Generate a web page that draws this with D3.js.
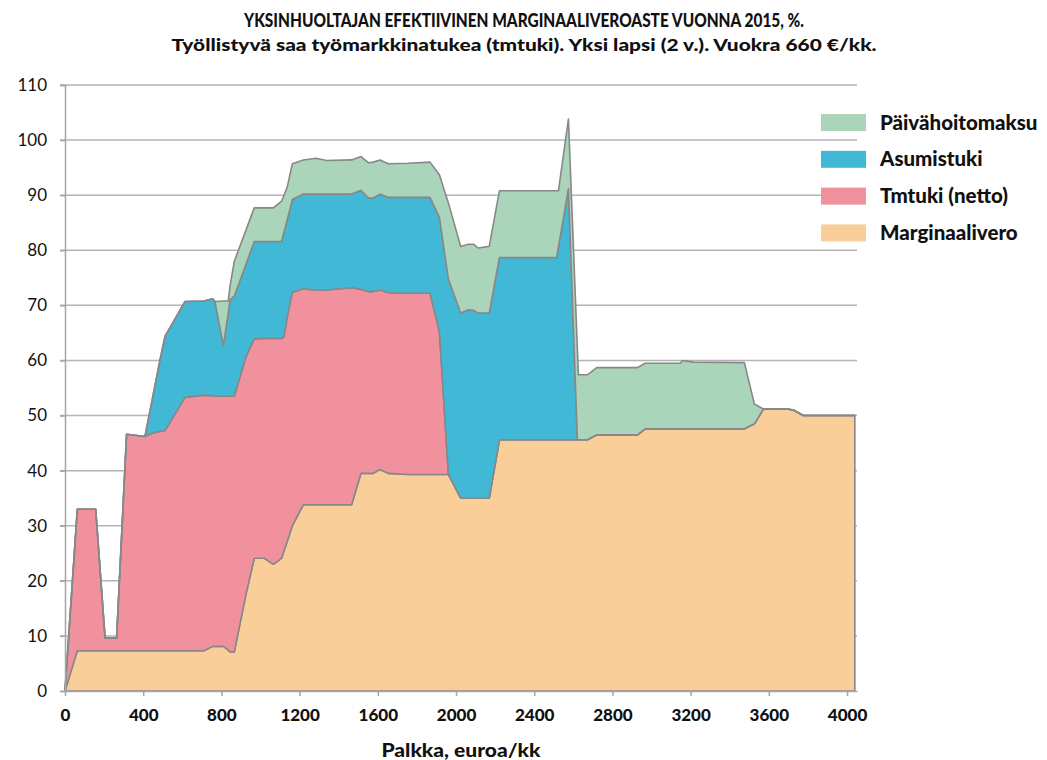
<!DOCTYPE html>
<html>
<head>
<meta charset="utf-8">
<script src="https://cdn.jsdelivr.net/npm/d3@7"></script>
<style>
  html, body { margin: 0; padding: 0; background: #fff; }
  svg text { font-family: Lato, "Noto Sans", sans-serif; fill: #111; }
</style>
</head>
<body>
<svg id="chart" width="1047" height="760"></svg>
<script>
// ---- data ----
const salary = [0, 63, 157, 205, 264, 315, 409, 455, 486, 512, 614, 711, 755, 767, 810, 835, 844, 866, 926, 968,
  1020, 1066, 1108, 1120, 1137, 1163, 1219, 1284, 1338, 1466, 1514, 1552, 1577, 1611, 1654, 1756, 1867, 1915, 1961,
  2024, 2063, 2089, 2114, 2170, 2222, 2515, 2524, 2575, 2621, 2626, 2672, 2720, 2928, 2967, 3146, 3160, 3214, 3475,
  3526, 3572, 3693, 3725, 3776, 4040];
const marginaalivero = [0, 7.3, 7.3, 7.3, 7.3, 7.3, 7.3, 7.3, 7.3, 7.3, 7.3, 7.3, 8.1, 8.1, 8.1, 7.4, 7.1, 7.1, 17.6, 24.1,
  24.1, 23.0, 24.1, 25.4, 27.2, 30.0, 33.8, 33.8, 33.8, 33.8, 39.5, 39.5, 39.5, 40.2, 39.5, 39.3, 39.3, 39.3, 39.3,
  35.0, 35.0, 35.0, 35.0, 35.0, 45.6, 45.6, 45.6, 45.6, 45.6, 45.6, 45.6, 46.5, 46.5, 47.6, 47.6, 47.6, 47.6, 47.6,
  48.5, 51.2, 51.2, 51.0, 50.0, 50.0];
const tmtuki = [0, 25.7, 25.7, 2.3, 2.3, 39.3, 38.9, 39.6, 39.8, 40.0, 46.0, 46.4, 45.5, 45.4, 45.4, 46.1, 46.4, 46.4, 43.1, 39.8,
  39.9, 41.0, 39.9, 38.9, 40.7, 42.4, 39.2, 39.0, 39.0, 39.4, 33.4, 33.0, 33.0, 32.6, 32.8, 32.9, 32.9, 25.9, 0,
  0, 0, 0, 0, 0, 0, 0, 0, 0, 0, 0, 0, 0, 0, 0, 0, 0, 0, 0,
  0, 0, 0, 0, 0, 0];
const asumistuki = [0, 0, 0, 0, 0, 0, 0, 7.6, 13.0, 17.1, 17.4, 17.1, 17.6, 17.2, 9.2, 15.1, 17.5, 18.2, 16.8, 17.7,
  17.6, 17.6, 17.6, 19.0, 17.7, 16.8, 17.2, 17.4, 17.4, 17.0, 18.0, 17.0, 17.0, 17.4, 17.3, 17.4, 17.4, 20.8, 35.5,
  33.6, 34.2, 34.1, 33.6, 33.6, 33.1, 33.1, 35.0, 45.6, 0, 0, 0, 0, 0, 0, 0, 0, 0, 0,
  0, 0, 0, 0, 0, 0];
const paivahoitomaksu = [0, 0, 0, 0, 0, 0, 0, 0, 0, 0, 0, 0, 0, 0, 8.1, 2.2, 2.5, 6.3, 6.2, 6.1,
  6.1, 6.1, 7.3, 6.7, 5.9, 6.5, 6.2, 6.5, 6.1, 6.2, 6.1, 6.4, 6.5, 6.2, 6.1, 6.2, 6.4, 7.7, 13.8,
  12.1, 11.9, 12.0, 11.8, 12.1, 12.1, 12.1, 10.2, 12.6, 16.3, 11.8, 11.8, 12.2, 12.2, 11.9, 11.9, 12.4, 12.1, 12.0,
  3.6, 0, 0, 0, 0, 0];
const seriesKeys = ["Marginaalivero", "Tmtuki (netto)", "Asumistuki", "Päivähoitomaksu"];
const seriesColors = ["#f9ce99", "#f0919d", "#41b8d5", "#abd5ba"];
const xTicks = [0, 400, 800, 1200, 1600, 2000, 2400, 2800, 3200, 3600, 4000];
const yTicks = [0, 10, 20, 30, 40, 50, 60, 70, 80, 90, 100, 110];
const titleLines = ["YKSINHUOLTAJAN EFEKTIIVINEN MARGINAALIVEROASTE VUONNA 2015, %.",
  "Työllistyvä saa työmarkkinatukea (tmtuki). Yksi lapsi (2 v.). Vuokra 660 €/kk."];
const xTitle = "Palkka, euroa/kk";

// ---- build ----
const svg = d3.select("#chart");
const rows = salary.map((s, i) => ({
  salary: s,
  "Marginaalivero": marginaalivero[i],
  "Tmtuki (netto)": tmtuki[i],
  "Asumistuki": asumistuki[i],
  "Päivähoitomaksu": paivahoitomaksu[i]
}));
const x = d3.scaleLinear().domain([0, 4051]).range([65, 857]);
const y = d3.scaleLinear().domain([0, 110]).range([691, 85]);

// gridlines
svg.append("g").selectAll("line").data(yTicks.filter(d => d > 0)).join("line")
  .attr("x1", 60).attr("x2", 857)
  .attr("y1", d => y(d)).attr("y2", d => y(d))
  .attr("stroke", "#b5b3b4").attr("stroke-width", 1.5);

// stacked areas
const stack = d3.stack().keys(seriesKeys);
const layers = stack(rows);
const area = d3.area()
  .x(d => x(d.data.salary))
  .y0(d => y(d[0]))
  .y1(d => y(d[1]));
svg.append("g").selectAll("path").data(layers).join("path")
  .attr("d", area)
  .attr("fill", (d, i) => seriesColors[i])
  .attr("stroke", "#888888")
  .attr("stroke-width", 1.6)
  .attr("stroke-linejoin", "round");

// y axis
const yAxis = d3.axisLeft(y).tickValues(yTicks).tickSize(5).tickPadding(13);
const gy = svg.append("g").attr("transform", "translate(65,0)").call(yAxis);
gy.select(".domain").attr("stroke", "#a7a5a6").attr("stroke-width", 1.5);
gy.selectAll(".tick line").attr("stroke", "#a7a5a6").attr("stroke-width", 1.5);
gy.selectAll(".tick text").style("font-size", "17px").style("font-family", "Lato, sans-serif").attr("fill", "#111");

// x axis
const xAxis = d3.axisBottom(x).tickValues(xTicks).tickFormat(d3.format("d"))
  .tickSize(5).tickSizeOuter(0).tickPadding(13);
const gx = svg.append("g").attr("transform", "translate(0,691)").call(xAxis);
gx.select(".domain").attr("stroke", "#a7a5a6").attr("stroke-width", 1.5);
gx.selectAll(".tick line").attr("stroke", "#a7a5a6").attr("stroke-width", 1.5);
gx.selectAll(".tick text").style("font-size", "17px").style("font-weight", "900").style("font-family", "Lato, sans-serif").attr("fill", "#111");

// titles
const titleWidths = [560, 705];
const titleSizes = [18, 17];
svg.append("g").selectAll("text").data(titleLines).join("text")
  .attr("x", 524).attr("y", (d, i) => 27 + i * 24)
  .attr("text-anchor", "middle")
  .attr("textLength", (d, i) => titleWidths[i])
  .attr("lengthAdjust", "spacingAndGlyphs")
  .style("font-size", (d, i) => titleSizes[i] + "px").style("font-weight", "900")
  .text(d => d);

svg.append("text").attr("x", 461).attr("y", 757).attr("text-anchor", "middle")
  .attr("textLength", 159).attr("lengthAdjust", "spacingAndGlyphs")
  .style("font-size", "18px").style("font-weight", "900").text(xTitle);

// legend (top entry = top layer)
const legendOrder = seriesKeys.map((k, i) => ({ k, c: seriesColors[i] })).reverse();
const lg = svg.append("g").selectAll("g").data(legendOrder).join("g")
  .attr("transform", (d, i) => `translate(821,${114 + i * 36.8})`);
lg.append("rect").attr("width", 45).attr("height", 17).attr("fill", d => d.c);
lg.append("text").attr("x", 59).attr("y", 15.5)
  .style("font-size", "20.5px").style("font-weight", "900").text(d => d.k);
</script>
</body>
</html>
